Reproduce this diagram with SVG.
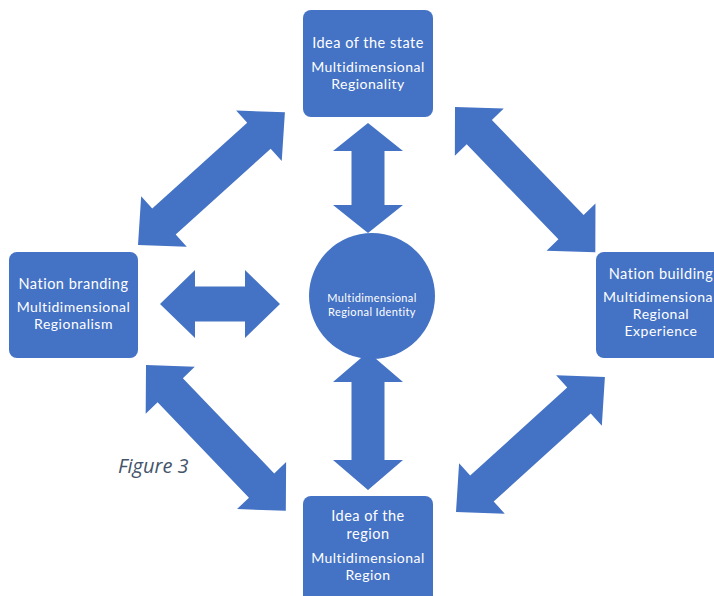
<svg xmlns="http://www.w3.org/2000/svg" width="714" height="596" viewBox="0 0 714 596">
<style>
.box{fill:#4472C4;}
.arr{fill:#4472C4;}
.t{font-family:Lato,"Open Sans","Liberation Sans",sans-serif;fill:#ffffff;text-anchor:middle;letter-spacing:0.5px;}
.h{font-size:14.5px;}
.s{font-size:14px;}
.c{font-size:11px;letter-spacing:0.4px;}
.fig{font-family:"Open Sans","Liberation Sans",sans-serif;font-style:italic;font-size:20px;fill:#44546A;}
</style>
<rect width="714" height="596" fill="#ffffff"/>
<g id="connectors">
<path class="arr" transform="translate(138,245) rotate(-42.1)" d="M0,0 L35,-34 L35,-17.5 L163,-17.5 L163,-34 L198,0 L163,34 L163,17.5 L35,17.5 L35,34 Z"/>
<path class="arr" transform="translate(455,107) rotate(46)" d="M0,0 L35,-34 L35,-17.5 L167,-17.5 L167,-34 L202,0 L167,34 L167,17.5 L35,17.5 L35,34 Z"/>
<path class="arr" transform="translate(146,365) rotate(46.2)" d="M0,0 L35,-34 L35,-17.5 L167,-17.5 L167,-34 L202,0 L167,34 L167,17.5 L35,17.5 L35,34 Z"/>
<path class="arr" transform="translate(456,512) rotate(-42.2)" d="M0,0 L35,-34 L35,-17.5 L166,-17.5 L166,-34 L201,0 L166,34 L166,17.5 L35,17.5 L35,34 Z"/>
<path class="arr" transform="translate(160,304)" d="M0,0 L35,-34 L35,-17.5 L85,-17.5 L85,-34 L120,0 L85,34 L85,17.5 L35,17.5 L35,34 Z"/>
<path class="arr" transform="translate(368,123) rotate(90)" d="M0,0 L28,-35 L28,-16.5 L82,-16.5 L82,-35 L110,0 L82,35 L82,16.5 L28,16.5 L28,35 Z"/>
<path class="arr" transform="translate(368,352) rotate(90)" d="M0,0 L30,-35 L30,-16.5 L108,-16.5 L108,-35 L138,0 L108,35 L108,16.5 L30,16.5 L30,35 Z"/>
</g>
<g id="node-state">
<rect class="box" x="303" y="10" width="130" height="107" rx="8"/>
<text class="t h" x="368" y="48">Idea of the state</text>
<text class="t s" x="368" y="72">Multidimensional</text>
<text class="t s" x="368" y="89">Regionality</text>
</g>
<g id="node-branding">
<rect class="box" x="9" y="252" width="129" height="106" rx="8"/>
<text class="t h" x="73.5" y="289">Nation branding</text>
<text class="t s" x="73.5" y="312">Multidimensional</text>
<text class="t s" x="73.5" y="329">Regionalism</text>
</g>
<g id="node-building">
<rect class="box" x="596" y="252" width="130" height="106" rx="8"/>
<text class="t h" x="661" y="279">Nation building</text>
<text class="t s" x="603" y="302" style="text-anchor:start">Multidimensiona</text>
<text class="t s" x="661" y="319">Regional</text>
<text class="t s" x="661" y="336">Experience</text>
</g>
<g id="node-region">
<rect class="box" x="303" y="496" width="130" height="112" rx="8"/>
<text class="t h" x="368" y="521">Idea of the</text>
<text class="t h" x="368" y="539">region</text>
<text class="t s" x="368" y="563">Multidimensional</text>
<text class="t s" x="368" y="580">Region</text>
</g>
<g id="node-identity">
<circle class="box" cx="372" cy="296" r="63"/>
<text class="t c" x="372" y="302">Multidimensional</text>
<text class="t c" x="372" y="316">Regional Identity</text>
</g>
<text class="fig" x="118" y="473">Figure 3</text>
</svg>
